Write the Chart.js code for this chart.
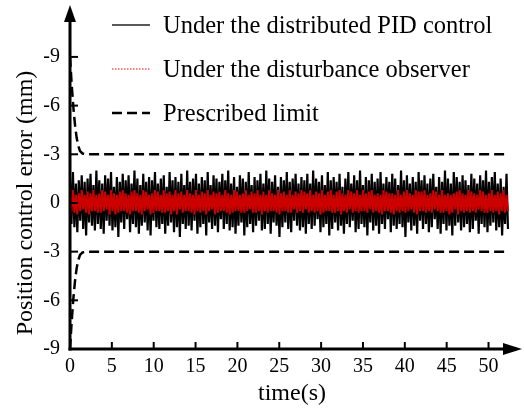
<!DOCTYPE html>
<html>
<head>
<meta charset="utf-8">
<script src="https://cdn.jsdelivr.net/npm/chart.js@4"></script>
<style>
    html, body { margin: 0; padding: 0; background: #fff; }
    #wrap { width: 524px; height: 409px; }
</style>
</head>
<body>
<div id="wrap"><canvas id="errorChart"></canvas></div>
<script>
// Tick values and labels (the y labels are printed as in the figure)
const xTickValues = [0, 5, 10, 15, 20, 25, 30, 35, 40, 45, 50];
const yTickValues = [-9, -6, -3, 0, 3, 6, 9];
const yTickLabels = ['-9', '-6', '-3', '0', '-3', '-6', '-9'];

// Sampling step of the recorded error signals (s)
const sampleStep = 0.175;

// Error under the distributed PID control (mm)
const pidError = [
    1.6,-1.3,1.9,-1.5,1.2,-1.8,1.4,-1.1,1.7,-1.6,1.3,-2.0,1.5,-1.2,1.8,-1.4,1.1,-1.7,2.0,-1.3,
    1.4,-1.6,1.2,-1.9,1.7,-1.1,1.5,-1.4,1.9,-1.7,1.0,-1.5,1.6,-2.1,1.3,-1.2,1.8,-1.6,1.4,-1.0,
    1.7,-1.8,1.2,-1.3,2.0,-1.5,1.5,-1.9,1.1,-1.4,1.8,-1.2,1.3,-1.7,1.6,-2.0,1.4,-1.1,1.9,-1.5,
    1.2,-1.6,1.5,-1.3,1.7,-1.9,1.0,-1.4,1.9,-1.2,1.4,-1.8,1.6,-1.5,1.3,-2.1,1.8,-1.3,1.1,-1.6,
    2.0,-1.4,1.3,-1.7,1.5,-1.1,1.8,-1.9,1.2,-1.5,1.6,-1.3,1.4,-2.0,1.9,-1.2,1.1,-1.6,1.7,-1.4,
    1.5,-1.8,1.3,-1.0,1.8,-1.6,1.4,-1.3,2.0,-1.7,1.2,-1.5,1.6,-1.9,1.0,-1.4,1.7,-1.2,1.5,-2.0,
    1.3,-1.5,1.9,-1.3,1.1,-1.8,1.6,-1.4,1.4,-1.1,1.8,-1.7,1.2,-1.6,2.0,-1.3,1.5,-1.9,1.3,-1.2,
    1.7,-1.4,1.0,-2.1,1.6,-1.5,1.4,-1.2,1.9,-1.6,1.3,-1.8,1.5,-1.1,1.8,-1.4,1.2,-1.7,1.6,-1.5,
    1.4,-1.9,1.8,-1.3,1.2,-1.6,2.0,-1.4,1.5,-1.0,1.3,-1.8,1.7,-1.5,1.1,-1.3,1.9,-2.0,1.4,-1.6,
    1.6,-1.2,1.3,-1.7,1.8,-1.4,1.0,-1.9,1.5,-1.3,1.9,-1.5,1.2,-1.1,1.7,-1.8,1.4,-1.6,2.0,-1.3,
    1.1,-1.5,1.6,-2.0,1.4,-1.2,1.8,-1.7,1.3,-1.4,1.5,-1.9,1.9,-1.3,1.2,-1.6,1.6,-1.0,1.3,-1.8,
    1.8,-1.4,1.5,-1.6,1.1,-1.3,2.0,-1.5,1.4,-2.1,1.7,-1.2,1.2,-1.7,1.6,-1.4,1.3,-1.9,1.9,-1.1,
    1.4,-1.6,1.7,-1.3,1.2,-1.8,1.5,-1.5,1.8,-1.0,1.0,-1.6,1.6,-1.9,1.3,-1.3,2.0,-1.7,1.5,-1.4,
    1.2,-2.0,1.9,-1.4,1.6,-1.2,1.3,-1.7,1.7,-1.5,1.4,-1.3,1.1,-1.8,1.8,-1.6,1.5,-1.1,1.2,-1.9,
    1.7,-1.3,1.4,-1.5,2.0,-1.8,1.3,-1.4,1.6,-1.2,1.9,-1.7,1.2,-1.5,1.5,-2.0,1.0,-1.3,1.8,-1.6
];

// Error under the disturbance observer (mm)
const observerError = [
    0.7,-0.5,0.8,-0.6,0.5,-0.7,0.6,-0.5,0.8,-0.4,0.5,-0.6,0.7,-0.7,0.6,-0.5,0.8,-0.5,0.5,-0.6,
    0.6,-0.6,0.8,-0.5,0.7,-0.4,0.5,-0.7,0.8,-0.5,0.6,-0.7,0.5,-0.6,0.7,-0.5,0.8,-0.5,0.6,-0.6,
    0.5,-0.7,0.7,-0.5,0.8,-0.5,0.6,-0.6,0.5,-0.7,0.8,-0.5,0.7,-0.4,0.5,-0.7,0.6,-0.6,0.8,-0.5,
    0.7,-0.5,0.5,-0.6,0.8,-0.6,0.6,-0.5,0.7,-0.7,0.5,-0.5,0.8,-0.7,0.6,-0.4,0.7,-0.6,0.5,-0.5,
    0.8,-0.5,0.6,-0.6,0.5,-0.7,0.8,-0.5,0.5,-0.6,0.7,-0.5,0.6,-0.7,0.8,-0.5,0.5,-0.4,0.7,-0.7,
    0.6,-0.6,0.7,-0.5,0.5,-0.5,0.8,-0.6,0.6,-0.7,0.5,-0.6,0.8,-0.5,0.7,-0.5,0.5,-0.6,0.6,-0.6,
    0.8,-0.5,0.5,-0.4,0.7,-0.6,0.6,-0.6,0.8,-0.5,0.5,-0.7,0.7,-0.5,0.5,-0.6,0.8,-0.5,0.6,-0.5,
    0.5,-0.6,0.8,-0.7,0.6,-0.5,0.7,-0.5,0.5,-0.6,0.8,-0.6,0.5,-0.4,0.7,-0.6,0.6,-0.5,0.8,-0.6,
    0.7,-0.4,0.6,-0.6,0.8,-0.5,0.5,-0.6,0.7,-0.5,0.6,-0.7,0.8,-0.6,0.5,-0.5,0.7,-0.5,0.8,-0.6,
    0.5,-0.6,0.7,-0.5,0.8,-0.7,0.6,-0.5,0.5,-0.6,0.8,-0.4,0.7,-0.6,0.6,-0.5,0.8,-0.6,0.5,-0.5,
    0.8,-0.5,0.6,-0.6,0.7,-0.4,0.8,-0.6,0.5,-0.5,0.6,-0.6,0.5,-0.7,0.8,-0.5,0.7,-0.5,0.6,-0.6,
    0.6,-0.7,0.5,-0.5,0.8,-0.6,0.5,-0.5,0.7,-0.6,0.8,-0.5,0.6,-0.4,0.5,-0.6,0.8,-0.7,0.7,-0.5,
    0.7,-0.5,0.8,-0.6,0.5,-0.5,0.6,-0.6,0.8,-0.4,0.7,-0.5,0.5,-0.6,0.8,-0.6,0.5,-0.5,0.6,-0.7,
    0.5,-0.6,0.6,-0.4,0.7,-0.7,0.8,-0.5,0.6,-0.6,0.5,-0.5,0.8,-0.6,0.7,-0.5,0.6,-0.6,0.5,-0.4,
    0.8,-0.5,0.7,-0.6,0.5,-0.6,0.6,-0.5,0.8,-0.6,0.5,-0.5,0.7,-0.7,0.6,-0.5,0.8,-0.6,0.5,-0.5
];

// Prescribed performance limits (mm)
const limitTimes = [0, 0.2, 0.4, 0.6, 0.8, 1.0, 1.2, 1.5, 2.0, 52.3];
const upperLimit = [9, 7.3, 5.9, 4.8, 4.0, 3.5, 3.2, 3.05, 3.0, 3.0];
const lowerLimit = [-9, -7.3, -5.9, -4.8, -4.0, -3.5, -3.2, -3.05, -3.0, -3.0];

const legendItems = [
    { text: 'Under the distributed PID control', color: '#222', width: 1.5, dash: [] },
    { text: 'Under the disturbance observer', color: '#ff0000', width: 1, dash: [1.5, 1.5] },
    { text: 'Prescribed limit', color: '#000', width: 2.5, dash: [10, 5] }
];

const FONT = '"Liberation Serif", "Times New Roman", serif';

function toPoints(times, values) {
    return values.map((v, i) => ({ x: times[i], y: v }));
}
const errorTimes = pidError.map((_, i) => i * sampleStep);

// Axes with arrows, inward ticks, titles and legend
const decorPlugin = {
    id: 'decor',
    afterDraw(chart) {
        const ctx = chart.ctx;
        const area = chart.chartArea;
        const xs = chart.scales.x;
        const ys = chart.scales.y;
        ctx.save();
        ctx.strokeStyle = '#000';
        ctx.fillStyle = '#000';
        ctx.lineWidth = 3;
        ctx.setLineDash([]);

        // y axis
        ctx.beginPath();
        ctx.moveTo(area.left, area.bottom + 1.5);
        ctx.lineTo(area.left, area.top + 12);
        ctx.stroke();
        ctx.beginPath();
        ctx.moveTo(area.left, area.top);
        ctx.lineTo(area.left - 6, area.top + 17);
        ctx.lineTo(area.left + 6, area.top + 17);
        ctx.closePath();
        ctx.fill();

        // x axis
        ctx.beginPath();
        ctx.moveTo(area.left - 1.5, area.bottom);
        ctx.lineTo(area.right - 12, area.bottom);
        ctx.stroke();
        ctx.beginPath();
        ctx.moveTo(area.right, area.bottom);
        ctx.lineTo(area.right - 19, area.bottom - 6);
        ctx.lineTo(area.right - 19, area.bottom + 6);
        ctx.closePath();
        ctx.fill();

        // inward ticks
        ctx.lineWidth = 2;
        xTickValues.forEach(v => {
            if (v === 0) return;
            const px = xs.getPixelForValue(v);
            ctx.beginPath();
            ctx.moveTo(px, area.bottom);
            ctx.lineTo(px, area.bottom - 7);
            ctx.stroke();
        });
        yTickValues.forEach(v => {
            if (v === -9) return;
            const py = ys.getPixelForValue(v);
            ctx.beginPath();
            ctx.moveTo(area.left, py);
            ctx.lineTo(area.left + 8, py);
            ctx.stroke();
        });

        // axis titles
        ctx.font = '24px ' + FONT;
        ctx.textAlign = 'center';
        ctx.textBaseline = 'alphabetic';
        ctx.fillText('time(s)', 292, 400);
        ctx.save();
        ctx.translate(32, ys.getPixelForValue(0));
        ctx.rotate(-Math.PI / 2);
        ctx.fillText('Position control error (mm)', 0, 0);
        ctx.restore();

        // legend
        ctx.font = '24.5px ' + FONT;
        ctx.textAlign = 'left';
        legendItems.forEach((item, i) => {
            const y = 25 + i * 44;
            ctx.strokeStyle = item.color;
            ctx.lineWidth = item.width;
            ctx.setLineDash(item.dash);
            ctx.beginPath();
            ctx.moveTo(112, y);
            ctx.lineTo(150, y);
            ctx.stroke();
            ctx.setLineDash([]);
            ctx.fillStyle = '#000';
            ctx.fillText(item.text, 163, y + 8);
        });
        ctx.restore();
    }
};

const tickFont = { family: FONT, size: 20 };

new Chart(document.getElementById('errorChart').getContext('2d'), {
    type: 'line',
    data: {
        datasets: [
            {
                label: 'Under the distributed PID control',
                data: toPoints(errorTimes, pidError),
                borderColor: '#000',
                borderWidth: 2.2,
                pointRadius: 0,
                order: 3
            },
            {
                label: 'Under the disturbance observer',
                data: toPoints(errorTimes, observerError),
                borderColor: 'rgb(205,0,0)',
                borderWidth: 2,
                pointRadius: 0,
                order: 2
            },
            {
                label: 'Prescribed limit',
                data: toPoints(limitTimes, upperLimit),
                borderColor: '#000',
                borderWidth: 2.5,
                borderDash: [10, 5],
                pointRadius: 0,
                order: 1
            },
            {
                label: 'Prescribed limit (lower)',
                data: toPoints(limitTimes, lowerLimit),
                borderColor: '#000',
                borderWidth: 2.5,
                borderDash: [10, 5],
                pointRadius: 0,
                order: 1
            }
        ]
    },
    options: {
        responsive: true,
        maintainAspectRatio: false,
        animation: false,
        devicePixelRatio: 1,
        layout: { padding: { left: 0, right: 2, top: 5, bottom: 0 } },
        plugins: {
            legend: { display: false },
            tooltip: { enabled: false }
        },
        scales: {
            x: {
                type: 'linear',
                min: 0,
                max: 54,
                grid: { display: false, drawTicks: false },
                border: { display: false },
                afterBuildTicks: scale => {
                    scale.ticks = xTickValues.map(v => ({ value: v }));
                },
                afterFit: scale => {
                    scale.height = 60;
                    scale.paddingLeft = 0;
                    scale.paddingRight = 0;
                },
                ticks: {
                    font: tickFont,
                    color: '#000',
                    padding: 6,
                    maxRotation: 0,
                    autoSkip: false
                }
            },
            y: {
                type: 'linear',
                min: -9,
                max: 12.2,
                grid: { display: false, drawTicks: false },
                border: { display: false },
                afterBuildTicks: scale => {
                    scale.ticks = yTickValues.map(v => ({ value: v }));
                },
                afterFit: scale => {
                    scale.width = 70;
                    scale.paddingTop = 0;
                    scale.paddingBottom = 0;
                },
                ticks: {
                    font: tickFont,
                    color: '#000',
                    padding: 10,
                    autoSkip: false,
                    callback: value => yTickLabels[yTickValues.indexOf(value)]
                }
            }
        }
    },
    plugins: [decorPlugin]
});
</script>
</body>
</html>
